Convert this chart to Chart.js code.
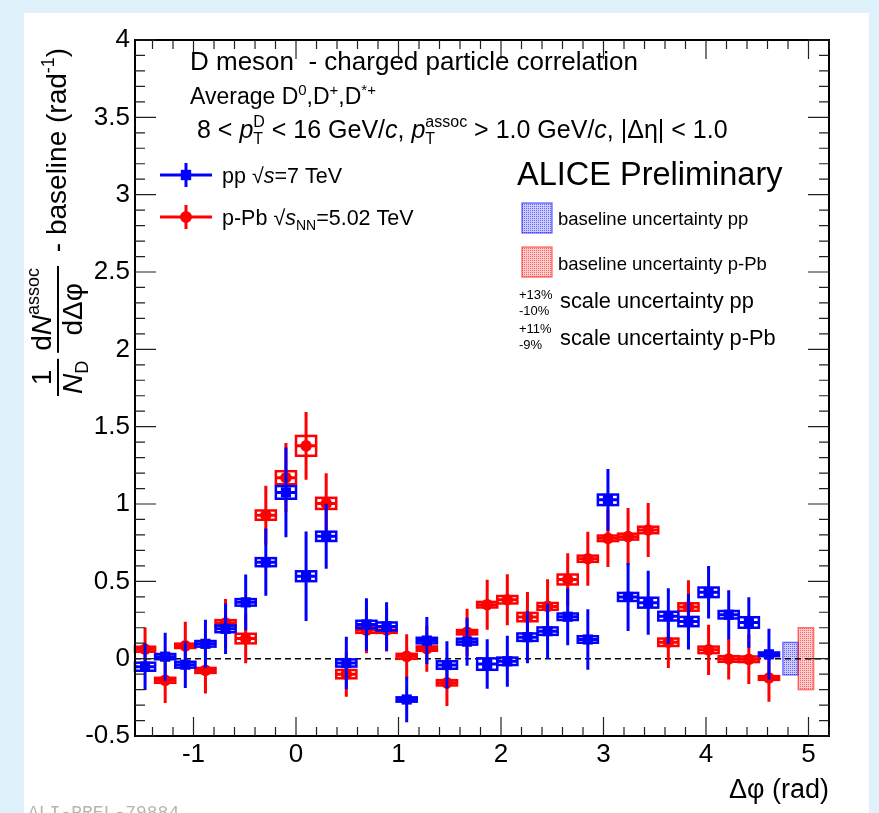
<!DOCTYPE html>
<html lang="en">

<head>
    <meta charset="UTF-8">
    <title>D meson - charged particle correlation</title>
    <style>
        body { margin: 0; background: #dff1fa; }
        #myChart { display: block; }
    </style>
</head>

<body>
    <canvas id="myChart" width="879" height="813"></canvas>

    <script src="https://cdn.jsdelivr.net/npm/chart.js"></script>

    <script>

        // delta phi bin centres, 32 bins of pi/16 between -pi/2 and 3pi/2
        var dphi = [-1.4726, -1.2763, -1.0799, -0.8836, -0.6872, -0.4909, -0.2945, -0.0982,
            0.0982, 0.2945, 0.4909, 0.6872, 0.8836, 1.0799, 1.2763, 1.4726,
            1.6690, 1.8653, 2.0617, 2.2580, 2.4544, 2.6507, 2.8471, 3.0434,
            3.2398, 3.4361, 3.6325, 3.8288, 4.0252, 4.2215, 4.4179, 4.6142];
        var binHalfWidth = 0.0982;

        // pp, sqrt(s) = 7 TeV
        var ppVal = [-0.052, 0.013, -0.039, 0.096, 0.193, 0.364, 0.624, 1.075,
            0.533, 0.791, -0.028, 0.221, 0.208, -0.264, 0.117, -0.041,
            0.110, -0.035, -0.017, 0.139, 0.178, 0.271, 0.124, 1.027,
            0.399, 0.362, 0.275, 0.240, 0.429, 0.284, 0.234, 0.028];
        var ppStat = [0.15, 0.155, 0.15, 0.155, 0.163, 0.18, 0.217, 0.29,
            0.29, 0.21, 0.17, 0.17, 0.157, 0.147, 0.152, 0.154,
            0.155, 0.16, 0.165, 0.168, 0.18, 0.185, 0.195, 0.2,
            0.22, 0.207, 0.18, 0.18, 0.17, 0.158, 0.163, 0.165];
        var ppSyst = [0.026, 0.017, 0.019, 0.018, 0.022, 0.021, 0.026, 0.041,
            0.032, 0.03, 0.023, 0.024, 0.026, 0.014, 0.018, 0.024,
            0.019, 0.037, 0.024, 0.024, 0.024, 0.021, 0.021, 0.034,
            0.026, 0.032, 0.028, 0.03, 0.031, 0.024, 0.034, 0.012];

        // p-Pb, sqrt(sNN) = 5.02 TeV
        var pPbVal = [0.061, -0.140, 0.083, -0.076, 0.230, 0.130, 0.928, 1.170,
            1.376, 1.004, -0.100, 0.185, 0.186, 0.015, 0.065, -0.156,
            0.171, 0.349, 0.381, 0.269, 0.338, 0.512, 0.646, 0.778,
            0.789, 0.832, 0.106, 0.334, 0.057, -0.002, -0.004, -0.125];
        var pPbStat = [0.14, 0.146, 0.155, 0.15, 0.156, 0.16, 0.19, 0.224,
            0.219, 0.195, 0.147, 0.15, 0.14, 0.143, 0.15, 0.15,
            0.152, 0.162, 0.165, 0.162, 0.175, 0.17, 0.175, 0.185,
            0.185, 0.175, 0.166, 0.173, 0.163, 0.133, 0.16, 0.153];
        var pPbSyst = [0.016, 0.016, 0.014, 0.016, 0.019, 0.031, 0.03, 0.042,
            0.064, 0.036, 0.027, 0.018, 0.019, 0.016, 0.014, 0.017,
            0.014, 0.018, 0.024, 0.027, 0.022, 0.032, 0.02, 0.018,
            0.019, 0.021, 0.024, 0.024, 0.021, 0.018, 0.018, 0.012];

        // baseline uncertainty bands: [x from, x to, +/- value]
        var baselinePP = [4.75, 4.90, 0.105];
        var baselinePPb = [4.90, 5.05, 0.20];

        var xTicks = [-1, 0, 1, 2, 3, 4, 5];
        var yTicks = [-0.5, 0, 0.5, 1, 1.5, 2, 2.5, 3, 3.5, 4];

        var BLUE = "#0000ff";
        var RED = "#ff0000";
        var FONT = '"Liberation Sans", Arial, sans-serif';

        function font(size, italic) {
            return (italic ? "italic " : "") + size + "px " + FONT;
        }

        // pieces: [text, size, dy, italic] or {sup: [...], sub: [...]} stacked
        function richText(ctx, pieces, x, y) {
            pieces.forEach(p => {
                if (p.sup || p.sub) {
                    var w = 0;
                    [p.sup, p.sub].forEach(s => {
                        if (!s) return;
                        ctx.font = font(s[1], s[3]);
                        ctx.fillText(s[0], x, y + s[2]);
                        w = Math.max(w, ctx.measureText(s[0]).width);
                    });
                    x += w;
                } else {
                    ctx.font = font(p[1], p[3]);
                    ctx.fillText(p[0], x, y + (p[2] || 0));
                    x += ctx.measureText(p[0]).width;
                }
            });
            return x;
        }

        function textWidth(ctx, pieces) {
            var w = 0;
            pieces.forEach(p => {
                if (p.sup || p.sub) {
                    var m = 0;
                    [p.sup, p.sub].forEach(s => {
                        if (!s) return;
                        ctx.font = font(s[1], s[3]);
                        m = Math.max(m, ctx.measureText(s[0]).width);
                    });
                    w += m;
                } else {
                    ctx.font = font(p[1], p[3]);
                    w += ctx.measureText(p[0]).width;
                }
            });
            return w;
        }

        // fine dotted fill like ROOT fill style 3001
        function dotPattern(ctx, r, g, b) {
            var c = document.createElement("canvas");
            c.width = 2; c.height = 2;
            var p = c.getContext("2d");
            p.fillStyle = "rgba(" + r + "," + g + "," + b + ",0.2)";
            p.fillRect(0, 0, 2, 2);
            p.fillStyle = "rgba(" + r + "," + g + "," + b + ",0.5)";
            p.fillRect(0, 0, 1, 1);
            return ctx.createPattern(c, "repeat");
        }

        function drawBand(ctx, x0, y0, x1, y1, rgb) {
            ctx.fillStyle = dotPattern(ctx, rgb[0], rgb[1], rgb[2]);
            ctx.fillRect(x0, y0, x1 - x0, y1 - y0);
            ctx.strokeStyle = "rgba(" + rgb.join(",") + ",0.5)";
            ctx.lineWidth = 1.5;
            ctx.strokeRect(x0, y0, x1 - x0, y1 - y0);
        }

        // stat error bars and syst boxes, drawn under each dataset's markers
        function drawErrors(chart, vals, stat, syst, color) {
            var ctx = chart.ctx;
            var xs = chart.scales.x, ys = chart.scales.y;
            ctx.save();
            ctx.strokeStyle = color;
            dphi.forEach((x, i) => {
                var px = xs.getPixelForValue(x);
                var xl = xs.getPixelForValue(x - binHalfWidth);
                var xr = xs.getPixelForValue(x + binHalfWidth);
                var py = ys.getPixelForValue(vals[i]);
                var yt = ys.getPixelForValue(vals[i] + syst[i]);
                var yb = ys.getPixelForValue(vals[i] - syst[i]);
                ctx.lineWidth = 2.5;
                ctx.strokeRect(xl, yt, xr - xl, yb - yt);
                ctx.lineWidth = 3;
                ctx.beginPath();
                ctx.moveTo(xl, py);
                ctx.lineTo(xr, py);
                ctx.moveTo(px, ys.getPixelForValue(vals[i] + stat[i]));
                ctx.lineTo(px, ys.getPixelForValue(vals[i] - stat[i]));
                ctx.stroke();
            });
            ctx.restore();
        }

        var rootStyle = {
            id: "rootStyle",
            beforeDraw(chart) {
                var ctx = chart.ctx;
                ctx.save();
                ctx.fillStyle = "#dff1fa";
                ctx.fillRect(0, 0, chart.width, chart.height);
                ctx.fillStyle = "#ffffff";
                ctx.fillRect(24, 13, 845, 800);
                ctx.restore();
            },
            beforeDatasetsDraw(chart) {
                var ctx = chart.ctx;
                var xs = chart.scales.x, ys = chart.scales.y;
                var a = chart.chartArea;
                ctx.save();
                // baseline uncertainty bands
                [[baselinePP, [0, 0, 255]], [baselinePPb, [255, 0, 0]]].forEach(b => {
                    drawBand(ctx, xs.getPixelForValue(b[0][0]), ys.getPixelForValue(b[0][2]),
                        xs.getPixelForValue(b[0][1]), ys.getPixelForValue(-b[0][2]), b[1]);
                });
                // zero line
                ctx.strokeStyle = "#000";
                ctx.lineWidth = 1.5;
                ctx.setLineDash([6, 4]);
                ctx.beginPath();
                ctx.moveTo(a.left, ys.getPixelForValue(0));
                ctx.lineTo(a.right, ys.getPixelForValue(0));
                ctx.stroke();
                ctx.restore();
            },
            beforeDatasetDraw(chart, args) {
                if (args.index === 0) drawErrors(chart, ppVal, ppStat, ppSyst, BLUE);
                else drawErrors(chart, pPbVal, pPbStat, pPbSyst, RED);
            },
            afterDraw(chart) {
                var ctx = chart.ctx;
                var xs = chart.scales.x, ys = chart.scales.y;
                var a = chart.chartArea;
                ctx.save();

                // frame and inward ticks
                ctx.strokeStyle = "#000";
                ctx.lineWidth = 2;
                ctx.strokeRect(a.left, a.top, a.right - a.left, a.bottom - a.top);
                ctx.lineWidth = 1.2;
                ctx.strokeStyle = "#222";
                ctx.beginPath();
                for (var t = -1.4; t < 5.21; t += 0.2) {
                    var major = Math.abs(t - Math.round(t)) < 1e-6;
                    var len = major ? 19 : 9;
                    var px = xs.getPixelForValue(t);
                    ctx.moveTo(px, a.bottom); ctx.lineTo(px, a.bottom - len);
                    ctx.moveTo(px, a.top); ctx.lineTo(px, a.top + len);
                }
                for (var k = -5; k <= 40; k++) {
                    var len = (k % 5 === 0) ? 21 : 10;
                    var py = ys.getPixelForValue(k / 10);
                    ctx.moveTo(a.left, py); ctx.lineTo(a.left + len, py);
                    ctx.moveTo(a.right, py); ctx.lineTo(a.right - len, py);
                }
                ctx.stroke();

                // tick labels
                ctx.fillStyle = "#000";
                ctx.font = font(26);
                ctx.textAlign = "right";
                ctx.textBaseline = "middle";
                yTicks.forEach(v => ctx.fillText(String(v), a.left - 5, ys.getPixelForValue(v)));
                ctx.textAlign = "center";
                ctx.textBaseline = "top";
                xTicks.forEach(v => ctx.fillText(String(v), xs.getPixelForValue(v), a.bottom + 6));

                ctx.textBaseline = "alphabetic";
                ctx.textAlign = "left";

                // x title
                ctx.font = font(27);
                ctx.textAlign = "right";
                ctx.fillText("\u0394\u03c6 (rad)", a.right, 798);
                ctx.textAlign = "left";

                // y title, rotated
                ctx.save();
                ctx.rotate(-Math.PI / 2);
                var fs = 28, ss = 18;
                var u = -396;
                var barV = 58, numV = 51, denV = 82;
                var fracs = [
                    [[["1", fs, 0]], [["N", fs, 0, true], ["D", ss, 6]]],
                    [[["d", fs, 0], ["N", fs, 0, true], ["assoc", ss, -12]], [["d\u0394\u03c6", fs, 0]]]
                ];
                fracs.forEach(f => {
                    var wn = textWidth(ctx, f[0]), wd = textWidth(ctx, f[1]);
                    var w = Math.max(wn, wd) + 4;
                    richText(ctx, f[0], u + (w - wn) / 2, numV);
                    richText(ctx, f[1], u + (w - wd) / 2, denV);
                    ctx.fillRect(u, barV - 1, w, 2);
                    u += w + 6;
                });
                richText(ctx, [[" - baseline (rad", 28, 0], ["-1", 18, -12], [")", 28, 0]], u, 66);
                ctx.restore();

                // header lines
                richText(ctx, [["D meson  - charged particle correlation", 26, 0]], 190, 70);
                richText(ctx, [["Average D", 23, 0], ["0", 15, -9], [",D", 23, 0], ["+", 15, -9],
                    [",D", 23, 0], ["*+", 15, -9]], 190, 104);
                richText(ctx, [["8 < ", 25, 0], ["p", 25, 0, true], { sup: ["D", 16, -11], sub: ["T", 16, 6] },
                    [" < 16 GeV/", 25, 0], ["c", 25, 0, true], [", ", 25, 0], ["p", 25, 0, true],
                    { sup: ["assoc", 16, -11], sub: ["T", 16, 6] }, [" > 1.0 GeV/", 25, 0], ["c", 25, 0, true],
                    [", |\u0394\u03b7| < 1.0", 25, 0]], 197, 138);

                // data legend
                [[BLUE, 175, "rect"], [RED, 217, "circle"]].forEach(e => {
                    ctx.strokeStyle = e[0];
                    ctx.fillStyle = e[0];
                    ctx.lineWidth = 3;
                    ctx.beginPath();
                    ctx.moveTo(160, e[1]); ctx.lineTo(212, e[1]);
                    ctx.moveTo(186, e[1] - 12); ctx.lineTo(186, e[1] + 12);
                    ctx.stroke();
                    Chart.helpers.drawPoint(ctx, { pointStyle: e[2], radius: e[2] === "rect" ? 7.2 : 5.8, borderWidth: 0 }, 186, e[1]);
                    ctx.fill();
                });
                ctx.fillStyle = "#000";
                richText(ctx, [["pp \u221a", 21.5, 0], ["s", 21.5, 0, true], ["=7 TeV", 21.5, 0]], 222, 183);
                richText(ctx, [["p-Pb \u221a", 21.5, 0], ["s", 21.5, 0, true], ["NN", 14, 5], ["=5.02 TeV", 21.5, 0]], 222, 225);

                // ALICE label and uncertainty legend
                richText(ctx, [["ALICE Preliminary", 32.5, 0]], 517, 185);
                drawBand(ctx, 522, 203, 552, 233, [0, 0, 255]);
                drawBand(ctx, 522, 247, 552, 277, [255, 0, 0]);
                ctx.fillStyle = "#000";
                richText(ctx, [["baseline uncertainty pp", 18.5, 0]], 558, 225);
                richText(ctx, [["baseline uncertainty p-Pb", 18.5, 0]], 558, 270);
                richText(ctx, [["+13%", 13, 0]], 519, 299);
                richText(ctx, [["-10%", 13, 0]], 519, 315);
                richText(ctx, [["scale uncertainty pp", 21.8, 0]], 560, 308);
                richText(ctx, [["+11%", 13, 0]], 519, 333);
                richText(ctx, [["-9%", 13, 0]], 519, 349);
                richText(ctx, [["scale uncertainty p-Pb", 21.8, 0]], 560, 345);

                // preliminary figure id, cut by the page edge
                ctx.fillStyle = "#b5b5b5";
                ctx.font = '18px "Liberation Mono", monospace';
                ctx.fillText("ALI-PREL-79884", 28, 818);
                ctx.restore();
            }
        };

        var chart = new Chart("myChart", {
            type: "scatter",
            data: {
                datasets: [{
                    label: "pp",
                    data: dphi.map((x, i) => ({ x: x, y: ppVal[i] })),
                    pointStyle: "rect",
                    pointRadius: 7.2,
                    pointBorderWidth: 0,
                    backgroundColor: BLUE
                },
                {
                    label: "p-Pb",
                    data: dphi.map((x, i) => ({ x: x, y: pPbVal[i] })),
                    pointStyle: "circle",
                    pointRadius: 5.8,
                    pointBorderWidth: 0,
                    backgroundColor: RED
                }]
            },
            options: {
                responsive: false,
                animation: false,
                events: [],
                layout: { padding: { left: 135, top: 40, right: 50, bottom: 77 } },
                plugins: { legend: { display: false }, tooltip: { enabled: false } },
                scales: {
                    x: { type: "linear", min: -Math.PI / 2, max: 5.2, display: false },
                    y: { type: "linear", min: -0.5, max: 4, display: false }
                }
            },
            plugins: [rootStyle]
        });

    </script>
</body>

</html>
